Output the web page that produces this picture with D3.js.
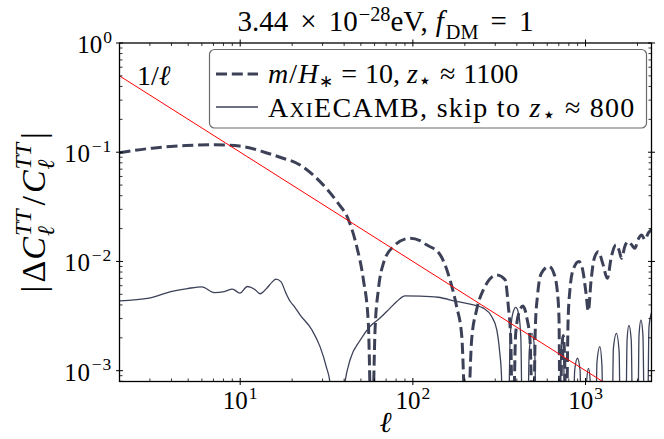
<!DOCTYPE html>
<html>
<head>
<meta charset="utf-8">
<script src="https://cdn.jsdelivr.net/npm/d3@7"></script>
<style>
  body { margin: 0; background: #fff; }
  svg { display: block; }
  text { font-family: "Liberation Serif", "Times New Roman", serif; fill: #000; white-space: pre; }
</style>
</head>
<body>
<svg id="chart" width="664" height="439"></svg>
<script>
// ── Data ──

// m/H_* = 10, z_* ~ 1100 (dashed)
const mhEll = [2, 3.1, 4.85, 7.2, 9.9, 14.1, 17, 22.2, 29, 36.3, 42.4, 47.3, 51.7, 55.2, 57.8,
  60.4, 63.1, 67.5, 77.1, 96.4, 110, 120, 143, 164, 179, 192, 205, 219, 234, 256,
  306, 342, 357, 369, 379, 394, 417, 434, 458, 477, 498, 512, 528, 555, 615,
  655, 685, 702, 713, 727, 742, 757, 772, 792, 812, 850, 915, 965, 1005, 1038,
  1075, 1120, 1186, 1260, 1337, 1410, 1500, 1560, 1618, 1690, 1767, 1850, 1930, 2020, 2112,
  2210, 2300, 2410];
const mhDiff = [0.099, 0.109, 0.115, 0.117, 0.114, 0.099, 0.090, 0.0765, 0.0538, 0.0353, 0.024, 0.0137, 0.0068, 0.00275, 0.0002,
  0.00237, 0.0055, 0.0096, 0.0137, 0.0163, 0.0155, 0.0142, 0.0117, 0.0068, 0.0039, 0.00206, 0.0002, 0.00192, 0.0036, 0.0055,
  0.0075, 0.0068, 0.0039, 0.0019, 0.0002, 0.0022, 0.0036, 0.0039, 0.0030, 0.0019, 0.0002, 0.0025, 0.0050, 0.0078, 0.0090,
  0.0078, 0.0055, 0.0030, 0.0002, 0.0014, 0.0021, 0.0013, 0.0002, 0.0028, 0.0055, 0.0085, 0.0100, 0.0082, 0.0052, 0.0035,
  0.0065, 0.0105, 0.0123, 0.0095, 0.0070, 0.0110, 0.0142, 0.0128, 0.0107, 0.0138, 0.0152, 0.0142, 0.0132, 0.0160, 0.0175,
  0.0158, 0.0180, 0.0195];

// AxiECAMB, skip to z_* ~ 800 (solid)
const axiEll = [2, 2.97, 3.97, 4.96, 6.0, 7.08, 8.08, 9.02, 9.96, 11.0, 12.05, 13.05, 14.1, 15.3, 16.1,
  17.2, 18.4, 19.5, 20.5, 22.2, 26, 29, 31.5, 33.2, 35.8, 40.5, 43.3, 49.5, 56.5, 64.5,
  73.8, 80.7, 90.2, 110, 140, 179, 224, 256, 286, 306, 318, 326, 333, 356, 366,
  380, 395, 410, 422, 432, 460, 472, 490, 508, 520, 712, 722, 735, 748, 758,
  845, 865, 898, 930, 950, 995, 1015, 1040, 1065, 1085, 1140, 1165, 1210, 1245, 1265,
  1420, 1450, 1510, 1565, 1595, 1705, 1740, 1783, 1840, 1880, 2005, 2040, 2094, 2150, 2200,
  2280, 2330, 2410];
const axiDiff = [0.00436, 0.00461, 0.0053, 0.00565, 0.00586, 0.00519, 0.0053, 0.00558, 0.00513, 0.0059, 0.0056, 0.00506, 0.00558, 0.00647, 0.00689,
  0.00653, 0.00513, 0.0043, 0.0039, 0.00325, 0.00237, 0.00166, 0.00109, 0.00075, 0.0001, 0.0008, 0.00126, 0.0019, 0.00254, 0.00303,
  0.00374, 0.0043, 0.00484, 0.00482, 0.0047, 0.0043, 0.0040, 0.00374, 0.00313, 0.00237, 0.0015, 0.0009, 0.0002, 0.0002, 0.0020,
  0.0034, 0.0038, 0.0033, 0.0020, 0.0002, 0.0002, 0.0015, 0.0022, 0.0015, 0.0002, 0.0002, 0.0013, 0.0020, 0.0013, 0.0002,
  0.0002, 0.0010, 0.0013, 0.0010, 0.0002, 0.0002, 0.0008, 0.00105, 0.0008, 0.0002, 0.0002, 0.0012, 0.00166, 0.0011, 0.0002,
  0.0002, 0.0016, 0.0022, 0.0015, 0.0002, 0.0002, 0.0019, 0.0026, 0.0019, 0.0002, 0.0002, 0.0021, 0.0029, 0.0021, 0.0002,
  0.0002, 0.0025, 0.0034];

// 1/ell reference line, end points
const refEll = [2, 2410];
const refVal = [0.5, 0.000415];

const xTickExps = [1, 2, 3];
const yTickExps = [0, -1, -2, -3];
const ellDomain = [2, 2410];
const valDomain = [7.96e-4, 1];

const lineColor = "#3c4158";
const refColor = "#ff0000";

// ── Layout ──
const svg = d3.select("#chart");
const plotLeft = 119.5, plotRight = 651.5, plotTop = 43, plotBottom = 381.5;
const tickSize = 25, titleSize = 29, legendSize = 28;

const x = d3.scaleLog().domain(ellDomain).range([plotLeft, plotRight]);
const y = d3.scaleLog().domain(valDomain).range([plotBottom, plotTop]);

// Sequential math-ish text: pieces placed one after another, sub/sup stacked
function mathText(parent, parts, opts) {
  const size = opts.size;
  const g = parent.append("g");
  let cursor = 0, lastStart = 0;
  parts.forEach((part) => {
    const small = part.sub || part.sup;
    const fontSize = (small ? size * 0.7 : size) * (part.scale || 1);
    const dy = part.dy != null ? part.dy : part.sub ? size * 0.27 : part.sup ? -size * 0.42 : 0;
    const startX = part.stack ? lastStart : cursor + (part.lpad || 0);
    const node = g.append("text")
      .attr("x", startX).attr("y", dy)
      .attr("font-size", fontSize)
      .attr("font-style", part.it ? "italic" : null)
      .attr("font-family", part.font || null)
      .attr("letter-spacing", opts.spacing || null)
      .text(part.t);
    const width = node.node().getComputedTextLength();
    if (!part.stack) lastStart = startX;
    cursor = Math.max(cursor, startX + width + (part.pad || 0));
  });
  const shift = opts.anchor === "middle" ? -cursor / 2 : opts.anchor === "end" ? -cursor : 0;
  g.selectAll("text").attr("x", function () { return +this.getAttribute("x") + shift; });
  g.attr("transform", `translate(${opts.x},${opts.y})` + (opts.rotate ? ` rotate(${opts.rotate})` : ""));
  return g;
}

svg.append("defs").append("clipPath").attr("id", "plot-clip")
  .append("rect")
  .attr("x", plotLeft).attr("y", plotTop)
  .attr("width", plotRight - plotLeft).attr("height", plotBottom - plotTop);

const lineGen = d3.line()
  .x((d) => x(d[0]))
  .y((d) => y(d[1]))
  .curve(d3.curveMonotoneX);

const plot = svg.append("g").attr("clip-path", "url(#plot-clip)");

// Solid AxiECAMB curve
plot.append("path")
  .datum(d3.zip(axiEll, axiDiff))
  .attr("d", lineGen)
  .attr("fill", "none")
  .attr("stroke", lineColor)
  .attr("stroke-width", 1.3);

// Dashed m/H curve
plot.append("path")
  .datum(d3.zip(mhEll, mhDiff))
  .attr("d", lineGen)
  .attr("fill", "none")
  .attr("stroke", lineColor)
  .attr("stroke-width", 3)
  .attr("stroke-dasharray", "11,4.8");

// 1/ell line
plot.append("path")
  .datum(d3.zip(refEll, refVal))
  .attr("d", d3.line().x((d) => x(d[0])).y((d) => y(d[1])))
  .attr("fill", "none")
  .attr("stroke", refColor)
  .attr("stroke-width", 1);

// ── Ticks (inward, mirrored on all four sides) ──
const xMajor = xTickExps.map((e) => Math.pow(10, e));
const xMinor = [];
for (let e = 0; e <= 3; e++) for (let m = 2; m <= 9; m++) {
  const v = m * Math.pow(10, e);
  if (v >= ellDomain[0] && v <= ellDomain[1]) xMinor.push(v);
}
const yMajor = yTickExps.map((e) => Math.pow(10, e));
const yMinor = [];
for (let e = -4; e <= -1; e++) for (let m = 2; m <= 9; m++) {
  const v = m * Math.pow(10, e);
  if (v >= valDomain[0] && v <= valDomain[1]) yMinor.push(v);
}

const ticks = svg.append("g").attr("stroke", "#000");
const majorLen = 3.5, minorLen = 3;
[plotBottom, plotTop].forEach((edge) => {
  const dir = edge === plotBottom ? -1 : 1;
  ticks.selectAll(null).data(xMajor).join("line")
    .attr("x1", (d) => x(d)).attr("x2", (d) => x(d))
    .attr("y1", edge - dir * majorLen).attr("y2", edge + dir * majorLen)
    .attr("stroke-width", 1);
  ticks.selectAll(null).data(xMinor).join("line")
    .attr("x1", (d) => x(d)).attr("x2", (d) => x(d))
    .attr("y1", edge).attr("y2", edge + dir * minorLen)
    .attr("stroke-width", 0.8);
});
[plotLeft, plotRight].forEach((edge) => {
  const dir = edge === plotLeft ? 1 : -1;
  ticks.selectAll(null).data(yMajor).join("line")
    .attr("y1", (d) => y(d)).attr("y2", (d) => y(d))
    .attr("x1", edge - dir * majorLen).attr("x2", edge + dir * majorLen)
    .attr("stroke-width", 1);
  ticks.selectAll(null).data(yMinor).join("line")
    .attr("y1", (d) => y(d)).attr("y2", (d) => y(d))
    .attr("x1", edge).attr("x2", edge + dir * minorLen)
    .attr("stroke-width", 0.8);
});

// Frame
svg.append("rect")
  .attr("x", plotLeft).attr("y", plotTop)
  .attr("width", plotRight - plotLeft).attr("height", plotBottom - plotTop)
  .attr("fill", "none").attr("stroke", "#000").attr("stroke-width", 1.3);

// Tick labels
xTickExps.forEach((e) => {
  mathText(svg, [{ t: "10" }, { t: String(e), sup: true, lpad: 1 }],
    { x: x(Math.pow(10, e)), y: 409, anchor: "middle", size: tickSize });
});
yTickExps.forEach((e) => {
  const label = e === 0 ? "0" : "\u2212" + Math.abs(e);
  mathText(svg, [{ t: "10" }, { t: label, sup: true, lpad: 1 }],
    { x: 112, y: y(Math.pow(10, e)) + 10, anchor: "end", size: tickSize, spacing: e === 0 ? null : 0.8 });
});

// Title
mathText(svg, [
  { t: "3.44" }, { t: "\u00d7", lpad: 12, pad: 12 }, { t: "10" }, { t: "\u221228", sup: true, lpad: 1, dy: -10 }, { t: "eV," },
  { t: "f", it: true, lpad: 8, pad: 2 }, { t: "DM", sub: true }, { t: "=", lpad: 12, pad: 12 }, { t: "1" },
], { x: (plotLeft + plotRight) / 2, y: 31, anchor: "middle", size: titleSize });

// Axis labels
mathText(svg, [{ t: "\u2113", it: true }], { x: (plotLeft + plotRight) / 2, y: 432, anchor: "middle", size: 29 });
mathText(svg, [
  { t: "|", pad: 3 }, { t: "\u0394", pad: 1 }, { t: "C", it: true, pad: 1 }, { t: "\u2113", it: true, sub: true, pad: 2 },
  { t: "TT", it: true, sup: true, stack: true, pad: 4 },
  { t: "/", pad: 3 }, { t: "C", it: true, pad: 1 }, { t: "\u2113", it: true, sub: true, pad: 2 },
  { t: "TT", it: true, sup: true, stack: true, pad: 4 },
  { t: "|" },
], { x: 45, y: (plotTop + plotBottom) / 2, anchor: "middle", rotate: -90, size: 34 });

// 1/ell annotation
mathText(svg, [{ t: "1/" }, { t: "\u2113", it: true }], { x: 137, y: 85, size: 28 });

// ── Legend ──
const legend = svg.append("g");
legend.append("rect")
  .attr("x", 209.5).attr("y", 49.5).attr("width", 437).attr("height", 78.5)
  .attr("rx", 5).attr("ry", 5)
  .attr("fill", "#fff").attr("fill-opacity", 0.8)
  .attr("stroke", "#6a6a6a").attr("stroke-width", 1.2);

const legendRows = [
  { y: 74, dash: "11,4.8", width: 3 },
  { y: 107, dash: null, width: 1.3 },
];
legendRows.forEach((row) => {
  legend.append("line")
    .attr("x1", 216).attr("x2", 258).attr("y1", row.y).attr("y2", row.y)
    .attr("stroke", lineColor).attr("stroke-width", row.width)
    .attr("stroke-dasharray", row.dash);
});
mathText(legend, [
  { t: "m", it: true, pad: 1 }, { t: "/", pad: 1 }, { t: "H", it: true, pad: 1 },
  { t: "\u2217", sub: true, scale: 0.85, dy: 4, font: "DejaVu Sans" },
  { t: "=", lpad: 8, pad: 8 }, { t: "10," }, { t: "z", it: true, lpad: 7 },
  { t: "\u22c6", sub: true, scale: 1.1, dy: 5, font: "DejaVu Sans" },
  { t: "\u2248", lpad: 8, pad: 8 }, { t: "1100" },
], { x: 268, y: 83, size: legendSize });
mathText(legend, [
  { t: "A" }, { t: "XI", scale: 0.74 }, { t: "ECAMB, skip to " },
  { t: "z", it: true }, { t: "\u22c6", sub: true, scale: 1.1, dy: 5, font: "DejaVu Sans" },
  { t: "\u2248", lpad: 8, pad: 8 }, { t: "800" },
], { x: 268, y: 117, size: legendSize, spacing: 1.3 });
</script>
</body>
</html>
